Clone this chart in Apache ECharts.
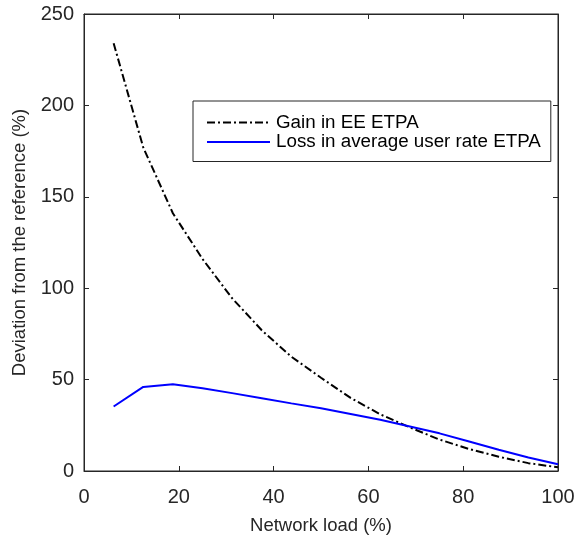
<!DOCTYPE html>
<html>
<head>
<meta charset="utf-8">
<script src="https://cdn.jsdelivr.net/npm/echarts@6/dist/echarts.min.js"></script>
<style>html,body{margin:0;padding:0;background:#fff}#c{width:582px;height:540px}</style>
</head>
<body>
<div id="c"></div>
<script>
const loads = [6.25, 12.5, 18.75, 25, 31.25, 37.5, 43.75, 50, 56.25, 62.5, 68.75, 75, 81.25, 87.5, 93.75, 100];
const gainEE = [234, 177, 141, 116, 94.5, 77, 62.5, 51, 40, 31, 23.8, 17.2, 12, 7.8, 4.3, 2];
const lossRate = [35.3, 46, 47.4, 45.3, 42.6, 39.8, 37, 34.3, 31.2, 28, 24.3, 20.6, 16.1, 11.6, 7.4, 3.7];
const xTicks = {min: 0, max: 100, interval: 20};
const yTicks = {min: 0, max: 250, interval: 50};
const seriesNames = ['Gain in EE ETPA', 'Loss in average user rate ETPA'];

const FONT = "'Liberation Sans', Arial, Helvetica, sans-serif";
const AX = '#262626';
const pair = (xs, ys) => xs.map((x, i) => [x, ys[i]]);

const chart = echarts.init(document.getElementById('c'), null, {renderer: 'canvas'});
const mirrorAxis = (extra) => Object.assign({
  type: 'value',
  axisLine: {show: true, onZero: false, lineStyle: {color: AX, width: 1}},
  axisTick: {show: true, inside: true, length: 5, lineStyle: {color: AX}},
  axisLabel: {show: false},
  splitLine: {show: false}
}, extra);
chart.setOption({
  animation: false,
  backgroundColor: '#fff',
  grid: {left: 84, top: 14, right: 24, bottom: 68.5, containLabel: false,
         show: true, borderColor: AX, borderWidth: 1, backgroundColor: 'transparent'},
  xAxis: [{
    type: 'value', min: xTicks.min, max: xTicks.max, interval: xTicks.interval,
    name: 'Network load (%)', nameLocation: 'middle', nameGap: 45,
    nameTextStyle: {color: AX, fontSize: 18.5, fontFamily: FONT},
    axisLine: {show: true, onZero: false, lineStyle: {color: AX, width: 1}},
    axisTick: {show: true, inside: true, length: 5, lineStyle: {color: AX}},
    axisLabel: {color: AX, fontSize: 20, fontFamily: FONT, margin: 16},
    splitLine: {show: false}
  }, mirrorAxis({position: 'top', min: xTicks.min, max: xTicks.max, interval: xTicks.interval})],
  yAxis: [{
    type: 'value', min: yTicks.min, max: yTicks.max, interval: yTicks.interval,
    name: 'Deviation from the reference (%)', nameLocation: 'middle', nameGap: 51,
    nameTextStyle: {color: AX, fontSize: 18.5, fontFamily: FONT},
    axisLine: {show: true, onZero: false, lineStyle: {color: AX, width: 1}},
    axisTick: {show: true, inside: true, length: 5, lineStyle: {color: AX}},
    axisLabel: {color: AX, fontSize: 20, fontFamily: FONT, margin: 10},
    splitLine: {show: false}
  }, mirrorAxis({position: 'right', min: yTicks.min, max: yTicks.max, interval: yTicks.interval})],
  legend: {
    show: true, orient: 'vertical', left: 193, top: 101,
    backgroundColor: '#fff', borderColor: AX, borderWidth: 1,
    padding: [12, 10, 10, 13],
    itemWidth: 63, itemHeight: 10, itemGap: 0.5,
    itemStyle: {opacity: 0},
    textStyle: {color: '#000', fontSize: 18.8, fontFamily: FONT, padding: [0, 0, 0, 1]},
    data: seriesNames
  },
  series: [{
    name: seriesNames[0], type: 'line', data: pair(loads, gainEE),
    showSymbol: false, symbol: 'none', smooth: false,
    lineStyle: {color: '#000', width: 2, type: [8, 3, 2, 3]},
    itemStyle: {color: '#000'}
  }, {
    name: seriesNames[1], type: 'line', data: pair(loads, lossRate),
    showSymbol: false, symbol: 'none', smooth: false,
    lineStyle: {color: '#0000ff', width: 2},
    itemStyle: {color: '#0000ff'}
  }, {
    name: '_mirror', type: 'line', xAxisIndex: 1, yAxisIndex: 1, data: [],
    silent: true, symbol: 'none'
  }]
});
</script>
</body>
</html>
